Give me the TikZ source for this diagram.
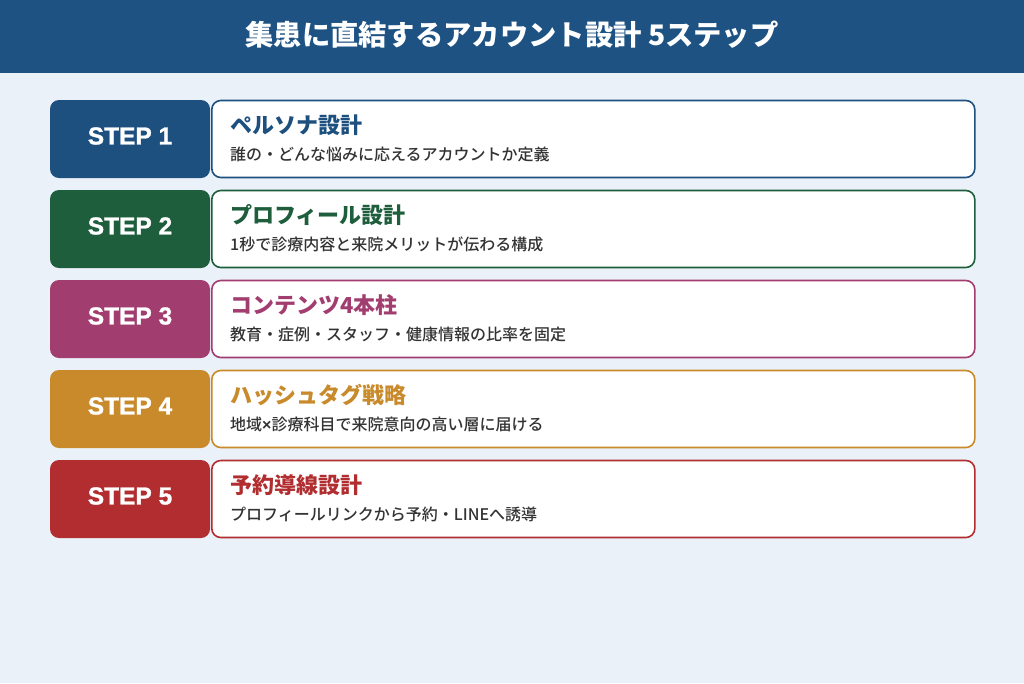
\documentclass[tikz,border=0pt]{standalone}
\usepackage{fontspec}
\setmainfont{Noto Sans CJK JP}
\newfontfamily\jpmed{Noto Sans CJK JP Medium}
\newfontfamily\stepfont{Liberation Sans}[FakeBold=1.2]
\newfontfamily\latinfont{Liberation Sans}
\definecolor{bgc}{HTML}{EAF1F9}
\definecolor{titlec}{HTML}{1D5283}
\definecolor{cA}{HTML}{1D4F7F}
\definecolor{cB}{HTML}{1E5E3C}
\definecolor{cC}{HTML}{A23D6F}
\definecolor{cD}{HTML}{C88A2A}
\definecolor{cE}{HTML}{B22D30}
\definecolor{subc}{HTML}{333333}
\tikzset{
  stepbox/.style={rounded corners=9pt, minimum width=160pt, minimum height=78pt, inner sep=0pt},
  steplbl/.style={inner sep=0pt, text=white, font=\stepfont\bfseries\fontsize{24.5}{25}\selectfont},
  cardbox/.style={rounded corners=9pt, fill=white, line width=1.6pt, minimum width=763pt, minimum height=77pt, inner sep=0pt, anchor=west},
  headtxt/.style={anchor=west, inner sep=0pt, font=\bfseries\fontsize{22}{22}\selectfont},
  subtxt/.style={anchor=west, inner sep=0pt, text=subc, font=\jpmed\fontsize{16}{16}\selectfont},
}
\begin{document}
\begin{tikzpicture}[x=1pt,y=-1pt]
\fill[bgc] (0,0) rectangle (1024,683);
\useasboundingbox (0,0) rectangle (1024,683);
\fill[titlec] (0,0) rectangle (1024,73);
\node[text=white, font=\bfseries\fontsize{28.3}{28}\selectfont, inner sep=0pt] (title) at (512,35) {集患に直結するアカウント設計 5ステップ};
\foreach \i/\c/\h/\s in {
  1/cA/ペルソナ設計/誰の・どんな悩みに応えるアカウントか定義,
  2/cB/プロフィール設計/1秒で診療内容と来院メリットが伝わる構成,
  3/cC/コンテンツ4本柱/教育・症例・スタッフ・健康情報の比率を固定,
  4/cD/ハッシュタグ戦略/{地域{\latinfont\bfseries ×}診療科目で来院意向の高い層に届ける},
  5/cE/予約導線設計/プロフィールリンクから予約・LINEへ誘導}{
  \pgfmathsetmacro\yc{139+90*(\i-1)}
  \node[stepbox, fill=\c] (step\i) at (130,\yc) {};
  \node[steplbl] (stepl\i) at (130,\yc-3) {STEP \i};
  \node[cardbox, draw=\c] (card\i) at (211,\yc) {};
  \node[headtxt, text=\c] (head\i) at (230,\yc-14) {\h};
  \node[subtxt] (sub\i) at (230,\yc+15) {\s};
}
\end{tikzpicture}
\end{document}
